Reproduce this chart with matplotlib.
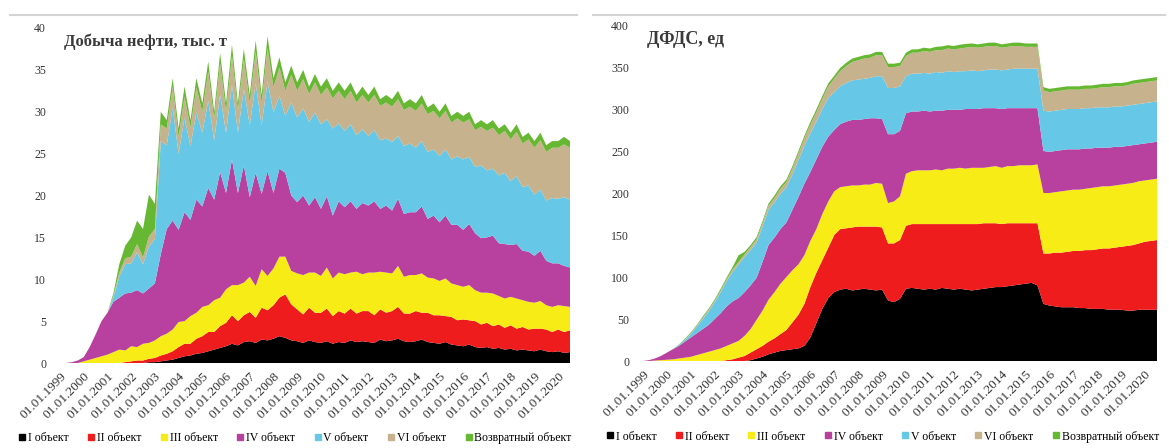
import numpy as np
import matplotlib
matplotlib.use('Agg')
import matplotlib.pyplot as plt
from matplotlib.lines import Line2D

plt.rcParams['font.family'] = ['Liberation Serif', 'DejaVu Serif']

# quarterly time axis, 1999.00 ... 2020.50
quarters = np.arange(1999.0, 2020.51, 0.25)
year_ticks = list(range(1999, 2021))
tick_labels = [f'01.01.{y}' for y in year_ticks]

series_names = ['I объект', 'II объект', 'III объект', 'IV объект',
                'V объект', 'VI объект', 'Возвратный объект']
colors = ['#000000', '#ee1c1c', '#f7ec16', '#b8409f', '#66c8e6', '#c6b38e', '#66b832']

# ---- left: oil production, thousand tonnes (values per object, quarterly) ----
oil_I = [0, 0, 0, 0,  0, 0, 0, 0,  0, 0, 0, 0,  0, 0, 0, 0.1,
         0.1, 0.2, 0.3, 0.4,  0.6, 0.8, 0.9, 1.1,  1.2, 1.4, 1.6, 1.8,  2.0, 2.3, 2.1, 2.5,
         2.6, 2.4, 2.8, 2.7,  2.9, 3.2, 3.0, 2.7,  2.6, 2.4, 2.7, 2.5,  2.4, 2.6, 2.3, 2.5,
         2.4, 2.7, 2.5, 2.6,  2.5, 2.4, 2.8, 2.6,  2.7, 2.9, 2.6, 2.5,  2.6, 2.8, 2.5, 2.4,
         2.3, 2.5, 2.2, 2.1,  2.0, 2.2, 1.9, 1.8,  1.9, 1.7, 1.8, 1.6,  1.7, 1.5, 1.6, 1.5,
         1.4, 1.6, 1.4, 1.3,  1.4, 1.2, 1.3]
oil_II = [0, 0, 0, 0,  0, 0, 0, 0,  0, 0, 0, 0.1,  0.2, 0.3, 0.3, 0.4,
          0.5, 0.7, 0.8, 1.0,  1.3, 1.5, 1.4, 1.8,  2.0, 2.3, 2.1, 2.6,  2.8, 3.4, 2.9, 3.2,
          3.5, 3.0, 3.8, 3.6,  4.0, 4.6, 5.2, 4.3,  3.8, 3.4, 3.9, 3.5,  3.6, 3.9, 3.3, 3.7,
          3.5, 3.8, 3.4, 3.6,  3.7, 3.3, 3.6, 3.4,  3.5, 3.8, 3.3, 3.4,  3.6, 3.2, 3.5, 3.3,
          3.4, 3.1, 3.3, 3.0,  3.2, 2.9, 3.1, 2.8,  2.9, 2.7, 2.8, 2.6,  2.8, 2.6, 2.7, 2.5,
          2.7, 2.5, 2.6, 2.4,  2.6, 2.5, 2.6]
oil_III = [0, 0, 0, 0,  0.2, 0.4, 0.6, 0.8,  1.0, 1.3, 1.6, 1.4,  1.8, 1.6, 2.0, 1.9,
           2.1, 2.3, 2.4, 2.6,  3.0, 2.7, 3.3, 3.1,  3.5, 3.2, 3.8, 3.4,  4.0, 3.6, 4.3, 3.9,
           4.2, 3.8, 4.6, 4.1,  4.4, 4.9, 4.5, 4.0,  4.3, 4.7, 4.2, 4.8,  4.4, 4.9, 4.5, 4.6,
           4.7, 4.3, 5.0, 4.4,  4.6, 5.1, 4.5, 4.8,  4.5, 4.9, 4.4, 4.6,  4.3, 4.7, 4.2, 4.4,
           4.1, 4.5, 4.0, 4.2,  3.9, 4.2, 3.7, 3.8,  3.6, 3.9, 3.4, 3.5,  3.4, 3.6, 3.2, 3.3,
           3.1, 3.3, 2.9, 3.0,  2.9, 3.1, 2.8]
oil_IV = [0, 0, 0.1, 0.3,  0.5, 1.5, 2.8, 4.2,  5.0, 6.0, 6.2, 6.8,  6.4, 6.8, 6.0, 6.5,
          6.8, 9.8, 12.5, 13.0,  11.0, 13.0, 11.5, 13.5,  12.0, 14.0, 12.0, 15.0,  11.5, 15.0, 11.0, 14.0,
          9.5, 13.5, 9.0, 12.5,  9.0, 10.5, 10.0, 9.0,  8.5, 9.5, 8.0, 9.0,  8.0, 8.5, 7.5, 8.5,
          8.0, 8.5, 7.5, 8.5,  8.0, 8.5, 7.5, 8.0,  7.5, 8.0, 7.5, 7.5,  7.5, 8.0, 7.0, 7.5,
          7.0, 7.5, 7.0, 7.2,  6.8, 7.3, 6.8, 6.5,  6.6, 6.9, 6.3, 6.5,  6.2, 6.5, 5.9, 6.0,
          5.6, 6.0, 5.3, 5.2,  5.0, 4.8, 4.7]
oil_V = [0, 0, 0, 0,  0, 0, 0, 0,  0, 0.5, 2.5, 3.5,  3.5, 4.5, 3.5, 5.0,
         5.3, 13.5, 10.0, 13.5,  9.1, 11.3, 8.8, 10.4,  8.8, 10.4, 7.1, 9.2,  7.2, 8.9, 7.2, 9.1,
         8.6, 10.7, 8.2, 10.7,  9.6, 8.7, 6.8, 11.1,  10.1, 10.4, 10.0, 10.1,  10.1, 9.2, 10.4, 9.3,
         9.1, 9.2, 8.8, 8.8,  8.3, 8.5, 8.2, 8.0,  8.2, 7.5, 8.1, 8.2,  7.7, 7.8, 8.0, 7.9,
         7.9, 7.9, 7.8, 8.2,  8.4, 8.0, 7.9, 8.7,  8.0, 8.0, 8.1, 8.5,  7.6, 8.1, 7.6, 7.9,
         7.3, 7.3, 7.2, 7.8,  7.7, 8.2, 8.1]
oil_VI = [0, 0, 0, 0,  0, 0, 0, 0,  0, 0.2, 0.5, 0.7,  0.8, 1.0, 0.8, 1.2,
          1.2, 2.0, 2.0, 2.5,  2.0, 2.5, 2.2, 3.0,  2.5, 3.5, 2.5, 3.8,  2.5, 3.5, 2.6, 3.6,
          2.6, 3.8, 2.6, 4.0,  3.0, 3.4, 3.0, 3.3,  3.2, 3.5, 3.3, 3.6,  3.5, 3.8, 3.6, 3.9,
          3.8, 4.0, 3.9, 4.1,  4.0, 4.2, 4.1, 4.3,  4.2, 4.4, 4.3, 4.4,  4.4, 4.5, 4.5, 4.6,
          4.5, 4.6, 4.4, 4.5,  4.4, 4.5, 4.4, 4.6,  4.7, 4.9, 4.8, 5.0,  5.0, 5.3, 5.2, 5.5,
          5.6, 5.9, 5.8, 6.0,  6.1, 6.3, 6.2]
oil_ret = [0, 0, 0, 0,  0, 0, 0, 0,  0, 0.3, 1.0, 1.5,  2.3, 2.8, 3.4, 5.0,
           3.0, 1.5, 1.0, 1.0,  1.0, 1.2, 0.9, 1.1,  1.0, 1.2, 0.9, 1.2,  1.0, 1.3, 0.9, 1.2,
           1.0, 1.3, 1.0, 1.4,  1.1, 1.2, 1.0, 1.1,  1.0, 1.1, 0.9, 1.0,  1.0, 1.1, 0.9, 1.0,
           1.0, 1.0, 0.9, 1.0,  0.9, 1.0, 0.8, 0.9,  0.9, 1.0, 0.8, 0.9,  0.9, 1.0, 0.8, 0.9,
           0.8, 0.9, 0.8, 0.8,  0.8, 0.9, 0.7, 0.8,  0.8, 0.9, 0.8, 0.8,  0.8, 0.9, 0.8, 0.8,
           0.8, 0.9, 0.8, 0.8,  0.8, 0.9, 0.8]

# ---- right: producing well stock (ДФДС), units ----
wells_I = [0, 0, 0, 0,  0, 0, 0, 0,  0, 0, 0, 0,  0, 0, 0, 0,
           0, 0, 1, 3,  5, 8, 10, 12,  13, 14, 15, 18,  28, 45, 62, 75,
           82, 85, 86, 84,  85, 86, 85, 84,  85, 72, 70, 74,  86, 87, 86, 85,
           86, 85, 87, 86,  85, 86, 85, 84,  85, 86, 87, 88,  88, 89, 90, 91,
           92, 93, 90, 68,  66, 65, 64, 64,  64, 63, 63, 62,  62, 62, 61, 61,
           61, 60, 60, 61,  61, 61, 61]
wells_II = [0, 0, 0, 0,  0, 0, 0, 0,  0, 0, 0, 0,  0, 0, 1, 2,
            4, 6, 9, 11,  13, 15, 17, 20,  24, 32, 40, 50,  60, 60, 58, 60,
            68, 72, 72, 75,  75, 74, 75, 76,  74, 68, 70, 70,  75, 76, 77, 78,
            77, 78, 76, 77,  78, 77, 78, 79,  78, 78, 77, 76,  75, 75, 74, 73,
            72, 71, 74, 60,  62, 64, 65, 66,  67, 68, 69, 70,  71, 72, 73, 74,
            75, 77, 78, 79,  81, 82, 83]
wells_III = [0, 0, 0.5, 1,  1.5, 2, 3, 4,  5, 7, 9, 11,  13, 15, 17, 19,
             20, 24, 28, 35,  42, 50, 55, 60,  63, 62, 60, 58,  55, 52, 55, 55,
             52, 50, 50, 50,  49, 50, 50, 52,  52, 48, 50, 52,  62, 63, 64, 64,
             64, 65, 64, 66,  66, 67, 66, 67,  67, 66, 67, 68,  67, 68, 68, 69,
             69, 69, 70, 72,  72, 72, 73, 73,  73, 73, 73, 74,  74, 74, 74, 74,
             74, 74, 74, 74,  73, 73, 73]
wells_IV = [0, 1, 2.5, 5,  8.5, 12, 15, 19,  23, 26, 29, 32,  37, 42, 47, 50,
            51, 52, 52, 50,  58, 65, 65, 65,  65, 72, 80, 85,  82, 83, 80, 77,
            73, 75, 77, 78,  78, 78, 79, 77,  77, 82, 80, 78,  72, 71, 70, 71,
            70, 70, 71, 70,  70, 69, 71, 70,  70, 71, 70, 69,  70, 69, 69, 68,
            68, 68, 67, 50,  49, 49, 49, 49,  48, 48, 48, 47,  47, 46, 46, 46,
            45, 45, 45, 44,  44, 44, 44]
wells_V = [0, 0, 0, 0,  0, 0, 1, 2,  4, 8, 12, 16,  20, 25, 30, 35,
           40, 42, 42, 42,  42, 42, 42, 42,  42, 42, 44, 45,  46, 45, 45, 46,
           45, 45, 46, 47,  48, 48, 48, 50,  51, 55, 55, 53,  44, 45, 45, 45,
           45, 46, 45, 46,  45, 46, 45, 46,  45, 45, 46, 46,  46, 46, 47, 47,
           47, 47, 47, 48,  48, 48, 48, 48,  48, 48, 48, 48,  48, 48, 48, 48,
           48, 48, 48, 48,  48, 48, 48]
wells_VI = [0, 0, 0, 0,  0, 0, 0, 0.5,  1, 1, 1.5, 2,  2, 2, 2.5, 3,
            3, 3, 3.5, 4,  4, 5, 5, 6,  6, 7, 8, 9,  10, 11, 12, 14,
            16, 18, 20, 22,  23, 24, 24, 25,  25, 25, 25, 24,  24, 25, 25, 26,
            26, 26, 27, 27,  27, 27, 28, 28,  28, 28, 28, 28,  27, 27, 27, 27,
            26, 26, 26, 24,  23, 23, 23, 23,  23, 23, 23, 23,  23, 24, 24, 24,
            24, 24, 25, 25,  25, 25, 25]
wells_ret = [0, 0, 0, 0,  0, 0, 0.5, 1,  1, 1, 1.5, 1.5,  1.5, 2, 2, 3,
             8, 3, 2.5, 2.5,  2.5, 2.5, 3, 3,  3, 3, 3, 3,  3.5, 3.5, 3.5, 3.5,
             3.5, 4, 4, 4,  4, 4, 4, 4,  4, 4, 4, 4,  4, 4, 4, 4,
             4, 4, 4.5, 4,  4, 4.5, 4.5, 4,  4, 4, 4, 4,  4, 4, 4, 4,
             4, 4, 4, 4,  4, 4, 4, 4,  4, 4, 4, 4,  4, 4, 4, 4,
             4, 4, 4, 4,  4, 4, 4]

W, H = 1169, 448
fig = plt.figure(figsize=(W / 100, H / 100), dpi=100)
ax1 = fig.add_axes([60 / W, 85 / H, 510 / W, 335 / H])
ax2 = fig.add_axes([643 / W, 87 / H, 514 / W, 336 / H])

panels = [
    (ax1, [oil_I, oil_II, oil_III, oil_IV, oil_V, oil_VI, oil_ret], 40, 5,
     'Добыча нефти, тыс. т', 0.46, 12),
    (ax2, [wells_I, wells_II, wells_III, wells_IV, wells_V, wells_VI, wells_ret], 400, 50,
     'ДФДС, ед', 0.465, 13),
]

for ax, data, ymax, ystep, title, leg_x, title_size in panels:
    ax.stackplot(quarters, *data, colors=colors, labels=series_names, linewidth=0)
    ax.set_xlim(1999, 2020.5)
    ax.set_ylim(0, ymax)
    ax.set_yticks(np.arange(0, ymax + 1, ystep))
    ax.set_xticks(year_ticks)
    ax.set_xticklabels(tick_labels, rotation=45, ha='right', rotation_mode='anchor')
    ax.tick_params(axis='both', length=0, colors='#333333')
    ax.tick_params(axis='y', pad=10, labelsize=8.5)
    ax.tick_params(axis='x', pad=5, labelsize=9.5)
    for s in ax.spines.values():
        s.set_visible(False)
    ax.text(0.008, 0.958, title, transform=ax.transAxes, fontsize=title_size,
            fontweight='bold', color='#3a3a3a', va='center', ha='left')
    handles = [Line2D([], [], marker='s', linestyle='', color=c, markersize=4.5)
               for c in colors]
    ax.legend(handles, series_names, loc='center', bbox_to_anchor=(leg_x, -0.225),
              ncol=7, frameon=False, fontsize=8.5, handletextpad=0.1,
              columnspacing=1.5, handlelength=0.8, borderaxespad=0)

# light chart frame lines at the top
fig.add_artist(Line2D([10 / W, 577 / W], [1 - 15 / H] * 2, color='#d4d4d4', lw=1.5))
fig.add_artist(Line2D([593 / W, 1165 / W], [1 - 15 / H] * 2, color='#d4d4d4', lw=1.5))

fig.savefig('out.png', dpi=100)
